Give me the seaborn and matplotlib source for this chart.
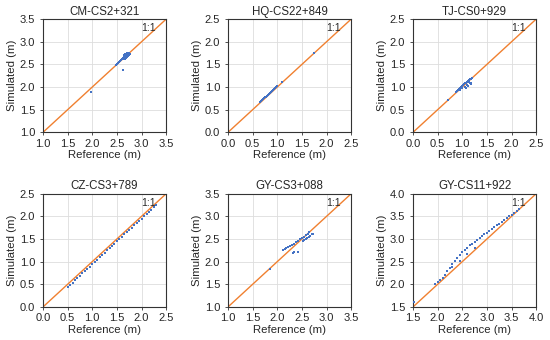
import matplotlib
matplotlib.use("Agg")
import matplotlib.pyplot as plt
import seaborn as sns
import pandas as pd

# -----------------------------
# Data
# -----------------------------
titles = ["CM-CS2+321", "HQ-CS22+849", "TJ-CS0+929",
          "CZ-CS3+789", "GY-CS3+088", "GY-CS11+922"]

limits = [(1.0, 3.5), (0.0, 2.5), (0.0, 2.5),
          (0.0, 2.5), (1.0, 3.5), (1.5, 4.0)]

tick_values = [[1.0, 1.5, 2.0, 2.5, 3.0, 3.5],
               [0.0, 0.5, 1.0, 1.5, 2.0, 2.5],
               [0.0, 0.5, 1.0, 1.5, 2.0, 2.5],
               [0.0, 0.5, 1.0, 1.5, 2.0, 2.5],
               [1.0, 1.5, 2.0, 2.5, 3.0, 3.5],
               [1.5, 2.0, 2.5, 3.0, 3.5, 4.0]]

x_tick_labels = [["1.0", "1.5", "2.0", "2.5", "3.0", "3.5"],
                 ["0.0", "0.5", "1.0", "1.5", "2.0", "2.5"],
                 ["0.0", "0.5", "1.0", "1.5", "2.0", "2.5"],
                 ["0.0", "0.5", "1.0", "1.5", "2.0", "2.5"],
                 ["1.0", "1.5", "2.0", "2.5", "3.0", "3.5"],
                 ["1.5", "2.0", "2.2", "3.0", "3.5", "4.0"]]

cm_ref = [1.98, 2.62, 2.48, 2.50, 2.52, 2.54, 2.56, 2.58, 2.60, 2.62, 2.63,
          2.64, 2.65, 2.66, 2.67, 2.68, 2.69, 2.70, 2.71, 2.72, 2.73, 2.74,
          2.75, 2.66, 2.68, 2.70, 2.72, 2.74, 2.76, 2.69, 2.71, 2.73, 2.65,
          2.67, 2.70, 2.75]
cm_sim = [1.90, 2.38, 2.49, 2.51, 2.53, 2.55, 2.57, 2.59, 2.61, 2.62, 2.64,
          2.65, 2.66, 2.67, 2.68, 2.69, 2.70, 2.71, 2.72, 2.73, 2.74, 2.75,
          2.76, 2.62, 2.64, 2.66, 2.68, 2.70, 2.72, 2.74, 2.76, 2.69, 2.70,
          2.72, 2.67, 2.70]

hq_ref = [0.65, 0.67, 0.69, 0.71, 0.73, 0.75, 0.77, 0.79, 0.81, 0.83, 0.85,
          0.88, 0.90, 0.92, 0.94, 0.96, 0.98, 1.00, 1.10, 1.75]
hq_sim = [0.67, 0.69, 0.71, 0.73, 0.75, 0.77, 0.79, 0.81, 0.82, 0.84, 0.86,
          0.89, 0.92, 0.94, 0.96, 0.98, 1.00, 1.02, 1.11, 1.76]

tj_ref = [0.72, 0.88, 0.90, 0.92, 0.94, 0.96, 0.98, 1.00, 1.02, 1.04, 1.06,
          1.08, 1.10, 1.12, 1.14, 1.16, 1.18, 1.20, 1.05, 1.10, 1.15, 1.18,
          1.12, 1.08, 1.00, 0.95, 1.14, 1.17]
tj_sim = [0.72, 0.90, 0.92, 0.94, 0.96, 0.98, 1.00, 1.02, 1.04, 1.06, 1.08,
          1.10, 1.12, 1.14, 1.16, 1.17, 1.18, 1.20, 1.00, 1.04, 1.08, 1.10,
          1.02, 0.98, 0.97, 0.93, 1.12, 1.06]

cz_ref = [0.50, 0.55, 0.60, 0.65, 0.70, 0.75, 0.80, 0.85, 0.90, 0.95, 1.00,
          1.05, 1.10, 1.15, 1.20, 1.25, 1.30, 1.35, 1.40, 1.45, 1.50, 1.55,
          1.60, 1.65, 1.70, 1.75, 1.80, 1.85, 1.90, 1.95, 2.00, 2.05, 2.10,
          2.15, 2.20, 2.25, 2.30]
cz_sim = [0.44, 0.49, 0.54, 0.59, 0.64, 0.69, 0.74, 0.79, 0.84, 0.89, 0.94,
          0.99, 1.04, 1.10, 1.15, 1.20, 1.25, 1.30, 1.35, 1.40, 1.45, 1.50,
          1.55, 1.60, 1.65, 1.70, 1.75, 1.80, 1.85, 1.90, 1.95, 2.00, 2.05,
          2.10, 2.15, 2.20, 2.25]

gy3_ref = [1.85, 2.32, 2.34, 2.42, 2.12, 2.15, 2.18, 2.22, 2.26, 2.30, 2.34,
           2.38, 2.42, 2.46, 2.50, 2.54, 2.58, 2.62, 2.65, 2.52, 2.55, 2.58,
           2.61, 2.64, 2.67, 2.70, 2.72]
gy3_sim = [1.83, 2.19, 2.22, 2.22, 2.26, 2.28, 2.30, 2.32, 2.34, 2.37, 2.40,
           2.43, 2.46, 2.49, 2.52, 2.55, 2.58, 2.62, 2.66, 2.45, 2.48, 2.50,
           2.52, 2.54, 2.57, 2.60, 2.62]

gy11_ref = [1.52, 1.95, 2.00, 2.05, 2.10, 2.15, 2.20, 2.25, 2.30, 2.35, 2.40,
            2.45, 2.50, 2.55, 2.60, 2.65, 2.70, 2.75, 2.80, 2.85, 2.90, 2.95,
            3.00, 3.05, 3.10, 3.15, 3.20, 3.25, 3.30, 3.35, 3.40, 3.45, 3.50,
            3.55, 3.60, 3.65, 2.30, 2.45, 2.60, 2.75]
gy11_sim = [1.62, 2.00, 2.05, 2.09, 2.14, 2.21, 2.29, 2.37, 2.45, 2.52, 2.59,
            2.65, 2.71, 2.76, 2.81, 2.86, 2.90, 2.94, 2.98, 3.02, 3.06, 3.10,
            3.14, 3.18, 3.22, 3.26, 3.30, 3.34, 3.38, 3.42, 3.46, 3.50, 3.54,
            3.58, 3.62, 3.66, 2.38, 2.52, 2.66, 2.80]

reference = [cm_ref, hq_ref, tj_ref, cz_ref, gy3_ref, gy11_ref]
simulated = [cm_sim, hq_sim, tj_sim, cz_sim, gy3_sim, gy11_sim]

# -----------------------------
# Style
# -----------------------------
sns.set_theme(style="whitegrid")
plt.rcParams["font.family"] = ["Liberation Sans", "DejaVu Sans"]
plt.rcParams["grid.color"] = "#dddddd"
plt.rcParams["grid.linewidth"] = 0.6

fig, axes = plt.subplots(2, 3, figsize=(5.5, 3.4), dpi=100)
plt.subplots_adjust(left=0.078, right=0.975, top=0.944, bottom=0.097,
                    wspace=0.50, hspace=0.54)

for i, ax in enumerate(axes.flat):
    lo, hi = limits[i]
    df = pd.DataFrame({"Reference": reference[i], "Simulated": simulated[i]})

    # 1:1 line
    ax.plot([lo, hi], [lo, hi], color="#F08030", linewidth=1.0, zorder=2)

    sns.scatterplot(data=df, x="Reference", y="Simulated", ax=ax,
                    color="#4472C4", s=3.5, marker="s", linewidth=0, zorder=3)

    ax.set_xlim(lo, hi)
    ax.set_ylim(lo, hi)
    ax.set_xticks(tick_values[i])
    ax.set_xticklabels(x_tick_labels[i])
    ax.set_yticks(tick_values[i])
    ax.set_yticklabels([f"{v:.1f}" for v in tick_values[i]])
    ax.tick_params(labelsize=8, length=2.5, width=0.6, color="#333333",
                   direction="out", left=True, bottom=True)
    ax.tick_params(axis="x", pad=2.0)
    ax.tick_params(axis="y", pad=3.0)

    ax.set_title(titles[i], fontsize=8.3, pad=3)
    ax.set_xlabel("Reference (m)", fontsize=8.2, labelpad=1)
    ax.set_ylabel("Simulated (m)", fontsize=8.2, labelpad=2)
    ax.text(0.86, 0.92, "1:1", transform=ax.transAxes, fontsize=7.5,
            ha="center", va="center")

    for s in ax.spines.values():
        s.set_color("#333333")
        s.set_linewidth(0.8)

plt.savefig("out.png", dpi=100)
